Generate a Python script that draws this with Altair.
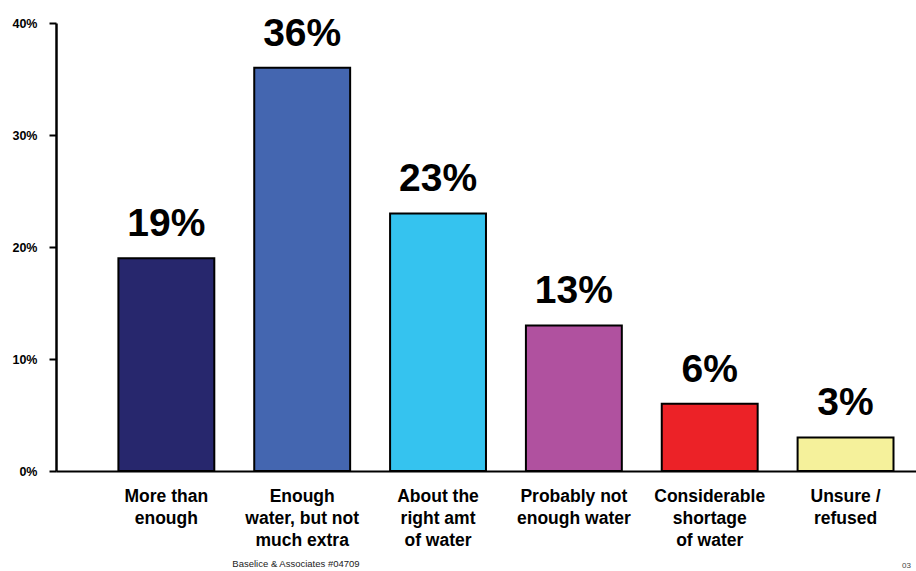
import altair as alt
import pandas as pd

# Survey responses: perceived water supply
categories = [
    "More than|enough",
    "Enough|water, but not|much extra",
    "About the|right amt|of water",
    "Probably not|enough water",
    "Considerable|shortage|of water",
    "Unsure /|refused",
]
shares = [19, 36, 23, 13, 6, 3]
bar_colors = ["#27276d", "#4466b0", "#35c3ef", "#b0519f", "#ec2227", "#f5f19b"]
y_ticks = [0, 10, 20, 30, 40]

df = pd.DataFrame({"cat": categories, "share": shares})
df["label"] = df["share"].astype(str) + "%"

FONT = "Liberation Sans"

x_enc = alt.X(
    "cat:N",
    sort=categories,
    scale=alt.Scale(paddingInner=0.294, paddingOuter=0.3125, align=0.735),
    axis=alt.Axis(
        title=None,
        labelAngle=0,
        labelExpr="split(datum.label, '|')",
        labelFont=FONT,
        labelFontSize=17.5,
        labelFontWeight="bold",
        labelColor="black",
        labelLineHeight=22,
        labelPadding=16,
        labelBaseline="top",
        ticks=False,
        domainColor="black",
        domainWidth=2,
    ),
)

y_scale = alt.Scale(domain=[0, 40], nice=False)

bars = alt.Chart(df).mark_bar(stroke="black", strokeWidth=2).encode(
    x=x_enc,
    y=alt.Y(
        "share:Q",
        scale=y_scale,
        axis=alt.Axis(
            title=None,
            values=y_ticks,
            labelExpr="datum.value + '%'",
            labelFont=FONT,
            labelFontSize=12.5,
            labelFontWeight="bold",
            labelColor="black",
            labelPadding=12,
            tickSize=7,
            tickWidth=2,
            tickColor="black",
            domainColor="black",
            domainWidth=2.5,
            grid=False,
        ),
    ),
    color=alt.Color("cat:N", sort=categories,
                    scale=alt.Scale(domain=categories, range=bar_colors),
                    legend=None),
)

value_labels = alt.Chart(df).mark_text(
    font=FONT, fontSize=39, fontWeight="bold", color="black",
    baseline="bottom", dy=-14,
).encode(
    x=alt.X("cat:N", sort=categories),
    y=alt.Y("share:Q", scale=y_scale),
    text="label:N",
)

footer = alt.Chart(pd.DataFrame({"t": ["Baselice & Associates #04709"]})).mark_text(
    font=FONT, fontSize=9.5, color="#222222", align="center", baseline="bottom",
).encode(x=alt.value(240), y=alt.value(546), text="t:N")

page_no = alt.Chart(pd.DataFrame({"t": ["03"]})).mark_text(
    font=FONT, fontSize=8, color="#444444", align="left", baseline="bottom",
).encode(x=alt.value(846), y=alt.value(547), text="t:N")

chart = (
    alt.layer(bars, value_labels, footer, page_no)
    .properties(
        width=860,
        height=448,
        padding={"left": 56, "top": 23, "right": 0, "bottom": 100},
        autosize=alt.AutoSizeParams(type="none"),
        background="white",
    )
    .configure_view(stroke=None)
)

chart.save("out.html", embed_options={"renderer": "svg", "actions": False})
